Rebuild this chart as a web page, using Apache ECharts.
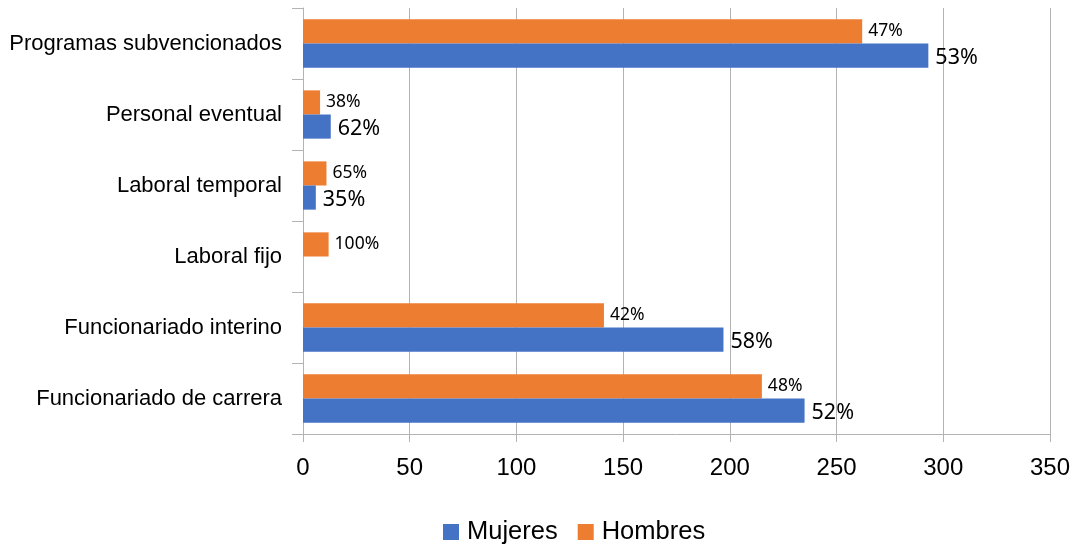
<!DOCTYPE html>
<html>
<head>
<meta charset="utf-8">
<script src="https://cdn.jsdelivr.net/npm/echarts@6/dist/echarts.min.js"></script>
<style>html,body{margin:0;padding:0;background:#fff;}#c{width:1076px;height:546px;}</style>
</head>
<body>
<div id="c"></div>
<script>
const categories = ['Funcionariado de carrera','Funcionariado interino','Laboral fijo','Laboral temporal','Personal eventual','Programas subvencionados'];
const mujeres = [235, 197, 0, 6, 13, 293];
const hombres = [215, 141, 12, 11, 8, 262];
const mujeresLabels = ['52%','58%','','35%','62%','53%'];
const hombresLabels = ['48%','42%','100%','65%','38%','47%'];
const xTicks = {min: 0, max: 350, interval: 50};

const chart = echarts.init(document.getElementById('c'), null, {renderer: 'canvas'});
chart.setOption({
  animation: false,
  backgroundColor: '#ffffff',
  grid: {left: 303, right: 26, top: 8, bottom: 112, containLabel: false},
  legend: {
    data: ['Mujeres', 'Hombres'],
    top: 514, left: 438,
    itemWidth: 16, itemHeight: 16, itemGap: 20,
    icon: 'rect',
    textStyle: {fontFamily: 'Liberation Sans', fontSize: 25.5, color: '#000', padding: [0, 0, 0, 3]}
  },
  xAxis: {
    type: 'value', min: xTicks.min, max: xTicks.max, interval: xTicks.interval,
    axisLine: {show: true, lineStyle: {color: '#b3b3b3'}},
    axisTick: {show: true, length: 8, lineStyle: {color: '#b3b3b3'}},
    splitLine: {show: true, lineStyle: {color: '#b3b3b3'}},
    axisLabel: {fontFamily: 'Liberation Sans', fontSize: 24, color: '#000', margin: 22}
  },
  yAxis: {
    type: 'category', data: categories,
    axisLine: {show: true, lineStyle: {color: '#b3b3b3'}},
    axisTick: {show: true, length: 11, lineStyle: {color: '#b3b3b3'}},
    axisLabel: {fontFamily: 'Liberation Sans', fontSize: 22, color: '#000', margin: 21}
  },
  series: [
    {
      name: 'Hombres', type: 'bar', data: hombres,
      itemStyle: {color: '#ed7d31'},
      barGap: '0%', barCategoryGap: '32%',
      label: {show: true, position: 'right', distance: 6,
        fontFamily: 'Noto Sans', fontSize: 17.5, color: '#000',
        formatter: p => hombresLabels[p.dataIndex]}
    },
    {
      name: 'Mujeres', type: 'bar', data: mujeres,
      itemStyle: {color: '#4472c4'},
      barGap: '0%', barCategoryGap: '32%',
      label: {show: true, position: 'right', distance: 7, offset: [0, 2],
        fontFamily: 'Noto Sans', fontSize: 21.5, color: '#000',
        formatter: p => mujeresLabels[p.dataIndex]}
    }
  ]
});
</script>
</body>
</html>
